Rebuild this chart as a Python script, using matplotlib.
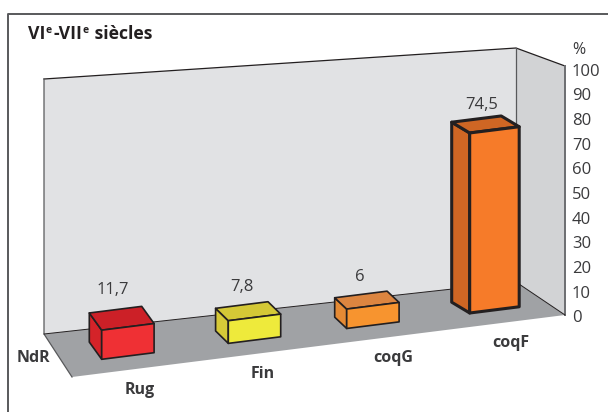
import matplotlib
matplotlib.use("Agg")
import matplotlib.pyplot as plt
from matplotlib.patches import Polygon

categories = ["Rug", "Fin", "coqG", "coqF"]
value_labels = ["11,7", "7,8", "6", "74,5"]
# heights as drawn, read against the % scale (not quite the printed values)
drawn_heights = [11.7, 9.1, 7.8, 72.3]
y_ticks = [0, 10, 20, 30, 40, 50, 60, 70, 80, 90, 100]

front_colors = ["#ef3034", "#eeea3b", "#f7942f", "#f67b29"]
top_colors = ["#cc2027", "#d4c836", "#dc8540", "#cf6624"]
side_colors = ["#d42329", "#d6c938", "#e58a34", "#cf6624"]
edge_widths = [1.2, 1.2, 1.2, 2.2]

PX = 2.49  # pixels per %
SLOPE = 0.1258  # floor tilt

plt.rcParams["font.family"] = ["Open Sans", "DejaVu Sans"]

fig = plt.figure(figsize=(6.08, 4.12), dpi=100)
ax = fig.add_axes([0, 0, 1, 1])
ax.set_xlim(0, 608)
ax.set_ylim(412, 0)
ax.axis("off")


def box(bar_x, bar_w, val, ddx, ddy, front, top, side, lw):
    # bar_x is the front left corner, the base follows the floor tilt
    y0 = 359.3 - (bar_x - 101.7) * SLOPE
    y1 = y0 - bar_w * SLOPE
    h = val * PX
    x1 = bar_x + bar_w
    ec = "#231f20"
    ax.add_patch(Polygon([(bar_x, y0), (x1, y1), (x1, y1 - h), (bar_x, y0 - h)],
                         fc=front, ec=ec, lw=lw, joinstyle="round", zorder=5))
    ax.add_patch(Polygon([(bar_x, y0), (bar_x, y0 - h), (bar_x - ddx, y0 - h - ddy), (bar_x - ddx, y0 - ddy)],
                         fc=side, ec=ec, lw=lw, joinstyle="round", zorder=4))
    ax.add_patch(Polygon([(bar_x, y0 - h), (x1, y1 - h), (x1 - ddx, y1 - h - ddy), (bar_x - ddx, y0 - h - ddy)],
                         fc=top, ec=ec, lw=lw, joinstyle="round", zorder=4))


# outer frame, only left and top are closed in the picture
ax.plot([8, 8, 608], [412, 14, 14], color="#58595b", lw=1.4, zorder=1)

# walls and floor
ax.add_patch(Polygon([(44, 79), (516, 48), (516, 282), (44, 334)], fc="#e1e2e4", ec="none", zorder=2))
ax.add_patch(Polygon([(516, 48), (565, 66), (565, 315), (516, 282)], fc="#d2d3d5", ec="none", zorder=2))
ax.add_patch(Polygon([(44, 334), (516, 282), (565, 315), (72, 377)], fc="#a0a2a5", ec="none", zorder=2))
ax.plot([44, 516, 565], [79, 48, 66], color="#231f20", lw=0.9, zorder=3)
ax.plot([44, 44, 72], [79, 334, 377], color="#58595b", lw=0.9, zorder=3)
ax.plot([516, 516], [48, 282], color="#58595b", lw=0.9, zorder=3)
ax.plot([565, 565], [66, 315], color="#6d6e71", lw=1.4, zorder=3)
ax.plot([44, 516], [334, 282], color="#231f20", lw=0.7, zorder=3)
ax.plot([516, 565], [282, 315], color="#231f20", lw=0.7, zorder=3)

# bars
bar_lefts = [101.7, 228.3, 346.7, 469.7]
bar_widths = [52.4, 52.4, 52.4, 49.5]
depth_dx = [12.4, 12.7, 12, 18]
depth_dy = [17.2, 12.4, 11.3, 10.8]
for i in range(len(categories)):
    box(bar_lefts[i], bar_widths[i], drawn_heights[i], depth_dx[i], depth_dy[i],
        front_colors[i], top_colors[i], side_colors[i], edge_widths[i])

# text
text_color = "#3a3a3c"
for t in y_ticks:
    ax.text(572, 318.5 - t * 2.47, str(t), fontsize=12, color=text_color, ha="left", va="center")
ax.text(572, 50, "%", fontsize=11.5, color=text_color, ha="left", va="center")

label_xy = [(113, 290), (242, 287), (360, 277), (482, 105)]
for lab, (x, y) in zip(value_labels, label_xy):
    ax.text(x, y, lab, fontsize=12, color=text_color, ha="center", va="center")

cat_xy = [(140, 390.5), (263, 373.5), (393, 358), (511, 343)]
for cat, (x, y) in zip(categories, cat_xy):
    ax.text(x, y, cat, fontsize=11.5, fontweight="bold", color=text_color, ha="center", va="center")
ax.text(33, 358, "NdR", fontsize=11.5, fontweight="bold", color=text_color, ha="center", va="center")

# title in pieces so that the superscript e stays small
title_x = 28
renderer = fig.canvas.get_renderer()
for piece, size, base in [("VI", 12.7, 38.5), ("e", 7.5, 33), ("-VII", 12.7, 38.5), ("e", 7.5, 33), (" siècles", 12.7, 38.5)]:
    txt = ax.text(title_x, base, piece, fontsize=size, fontweight="bold", color="#231f20",
                  ha="left", va="baseline")
    if piece == " siècles":
        break
    title_x = txt.get_window_extent(renderer).x1 + 0.5
    if piece == "e":
        title_x += 0.5

fig.savefig("out.png", dpi=100)
